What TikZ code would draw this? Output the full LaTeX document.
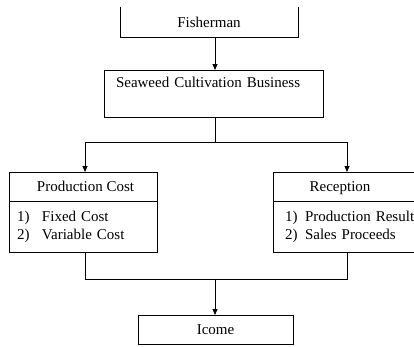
\documentclass[tikz,border=0pt]{standalone}
\usepackage{fontspec}
\setmainfont{Liberation Serif}
\usetikzlibrary{arrows.meta}
\begin{document}
\begin{tikzpicture}[x=1pt,y=-1pt, line width=0.8pt,
  box/.style={draw, rectangle, inner sep=0pt, outer sep=0pt},
  arr/.style={-{Triangle[length=6pt,width=5pt]}},
  font=\fontsize{15}{18}\selectfont]
\useasboundingbox (0,0) rectangle (414,346);
\clip (0,0) rectangle (414,346);
% Fisherman (top cut off)
\node[rectangle, inner sep=0pt, outer sep=0pt, minimum width=178pt, minimum height=30pt,
      anchor=south west] (fish) at (120,37) {Fisherman};
\draw (fish.north west) -- (fish.south west) -- (fish.south east) -- (fish.north east);
% Seaweed
\node[box, minimum width=219pt, minimum height=47pt, anchor=north west, align=left,
      text width=195pt, inner xsep=12pt] (sw) at (104,70) {Seaweed Cultivation Business\\ \strut};
% Production cost
\node[box, minimum width=148pt, minimum height=29pt, anchor=north west] (pc) at (9,172)
  {\raisebox{-1.5pt}[\height][\depth]{\strut Production Cost}\hspace*{-5pt}};
\node[box, minimum width=148pt, minimum height=51pt, anchor=north west, align=left,
      text width=132pt, inner xsep=8pt] (pcl) at (pc.south west)
  {\begin{tabular}{@{}p{25pt}@{}l@{}}1) & Fixed Cost\\ 2) & Variable Cost\end{tabular}};
% Reception
\node[box, minimum width=170pt, minimum height=29pt, anchor=north west] (rc) at (273,172)
  {\raisebox{-1.5pt}[\height][\depth]{\strut Reception}\hspace*{36pt}};
\node[box, minimum width=170pt, minimum height=51pt, anchor=north west, align=left,
      text width=146pt, inner xsep=12pt] (rcl) at (rc.south west)
  {\begin{tabular}{@{}p{20pt}@{}l@{}}1) & Production Result\\ 2) & Sales Proceeds\end{tabular}};
% Income
\node[box, minimum width=155pt, minimum height=29pt, anchor=north west] (inc) at (138,315) {Icome};
% connectors
\coordinate (j1) at (215,142);
\coordinate (a) at (85,142);
\coordinate (b) at (347,142);
\coordinate (c) at (85,279);
\coordinate (d) at (347,279);
\coordinate (e) at (215,279);
\draw[arr] (fish.south -| j1) -- (j1 |- sw.north);
\draw (sw.south -| j1) -- (j1);
\draw[arr] (j1) -- (a) -- (a |- pc.north);
\draw[arr] (j1) -- (b) -- (b |- rc.north);
\draw (c |- pcl.south) -- (c) -- (d) -- (d |- rcl.south);
\draw[arr] (e) -- (e |- inc.north);
\end{tikzpicture}
\end{document}
